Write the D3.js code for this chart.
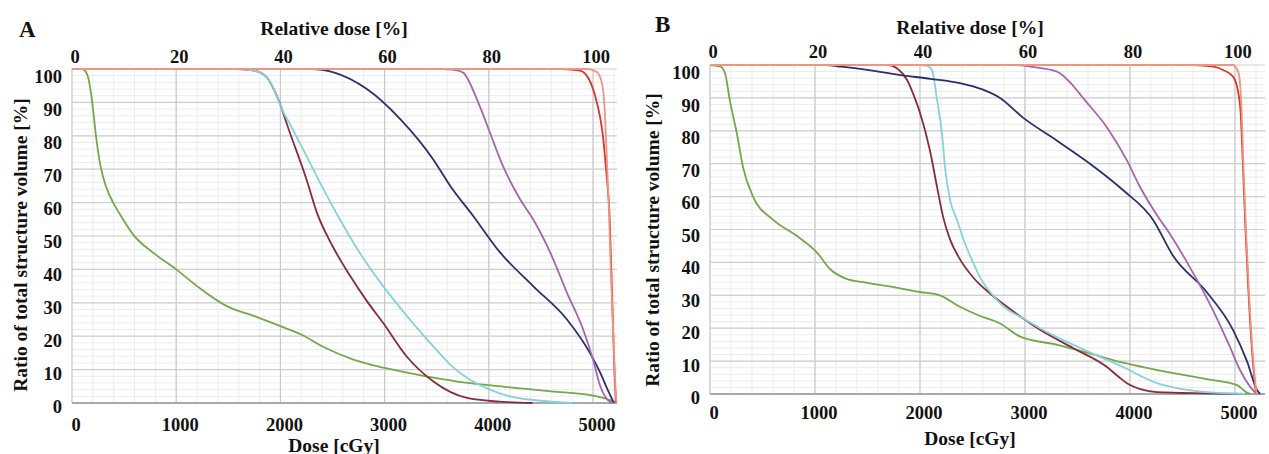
<!DOCTYPE html>
<html>
<head>
<meta charset="utf-8">
<script src="https://cdn.jsdelivr.net/npm/d3@7"></script>
<style>
  body { margin: 0; background: #fff; }
  text { font-family: "Liberation Serif", "Times New Roman", serif; font-weight: bold; fill: #111; }
</style>
</head>
<body>
<svg width="1269" height="454"></svg>
<script>
// ticks
const doseTicks = [0, 1000, 2000, 3000, 4000, 5000]
const relTicks = [0, 20, 40, 60, 80, 100]
const volTicks = [0, 10, 20, 30, 40, 50, 60, 70, 80, 90, 100]
const prescribedDose = 5000 // 100 % relative dose

// panel A, [dose cGy, volume %]
const greenA = [[0,100],[100,100],[150,98],[190,91],[230,80],[270,71.5],[330,64.5],[395,60],[460,56.5],[585,50.5],[800,44.5],[1000,40],[1200,35],[1485,29],[1750,26],[2000,23],[2200,20.5],[2400,17],[2700,13],[3000,10.5],[3400,8],[3800,6],[4200,4.7],[4600,3.5],[5000,2.2],[5150,1],[5230,0]]
const brownA = [[0,100],[1600,100],[1750,99.5],[1870,97.5],[1965,92],[2090,81],[2250,67],[2350,57],[2500,47],[2670,38],[2830,30.5],[2985,24],[3210,14],[3465,6.5],[3790,1.5],[4100,0.4],[4420,0]]
const cyanA = [[0,100],[1600,100],[1750,99.5],[1870,97.5],[1965,92],[2000,89],[2100,83],[2250,74],[2380,66],[2570,55],[2750,45.5],[2985,35],[3150,28.5],[3310,22.5],[3480,16.5],[3630,11.5],[3800,7.3],[4010,4],[4200,2],[4425,0.9],[4750,0.1],[4800,0]]
const navyA = [[0,100],[2300,100],[2510,99],[2830,94],[3150,85],[3465,73],[3630,65],[3850,56],[4110,45],[4425,35],[4750,25],[4970,15],[5070,9],[5140,4],[5200,0]]
const purpleA = [[0,100],[3550,100],[3650,99.8],[3750,99],[3885,91],[4010,81],[4135,71],[4300,61],[4425,55],[4590,45],[4750,33],[4905,22],[5000,13],[5070,5],[5165,0.3],[5200,0]]
const redA = [[0,100],[4700,100],[4875,99.5],[4960,97],[5020,92],[5065,86],[5095,80],[5125,70],[5160,55],[5185,30],[5205,10],[5220,0]]
const salmonA = [[0,100],[4950,100],[5040,99],[5090,95],[5115,86],[5130,75],[5150,60],[5170,40],[5195,20],[5215,5],[5225,0]]

// panel B
const greenB = [[0,100],[100,99.5],[143,97.5],[190,89],[257,79],[314,69],[410,60],[600,53],[829,48],[1019,43],[1143,38],[1300,35],[1457,34],[1750,32.5],[2000,31],[2190,30],[2380,26.5],[2550,24],[2760,21.5],[2950,17.5],[3300,15],[3600,12.5],[3935,9.5],[4300,7],[4730,4.5],[5020,2.7],[5110,0.5],[5150,0]]
const brownB = [[0,100],[1700,100],[1780,99],[1876,95.5],[1950,90],[2000,85.5],[2095,74],[2162,63],[2219,54],[2286,47],[2380,41],[2505,35.5],[2650,31],[2829,26.5],[3143,19.5],[3457,14],[3781,8.2],[3900,5],[3971,3.3],[4100,1.5],[4257,0.6],[4700,0.2],[5100,0]]
const cyanB = [[0,100],[2000,100],[2070,99.7],[2114,98.5],[2162,89.5],[2210,79],[2238,69],[2286,59],[2352,53],[2420,46.5],[2505,40],[2580,35],[2667,31],[2800,26.5],[2981,23],[3200,19],[3457,15],[3700,11.5],[3935,8.2],[4100,5.5],[4257,3.3],[4500,1.5],[4730,0.6],[5100,0]]
const navyB = [[0,100],[1100,100],[1250,99.5],[1500,98.5],[1800,97],[2100,95.8],[2380,94.5],[2600,92.5],[2762,90],[2981,84],[3305,77],[3619,70],[3933,62],[4219,53],[4410,42],[4730,31],[4981,19.5],[5114,10],[5210,1.2],[5240,0]]
const purpleB = [[0,100],[2900,100],[3050,99.5],[3305,98],[3450,94],[3552,90],[3781,81],[3971,71],[4095,63],[4286,53],[4352,50],[4571,38.5],[4790,25.5],[4952,14.3],[5048,7.3],[5171,1.2],[5210,0]]
const redB = [[0,100],[4600,100],[4800,99.5],[4886,98.5],[4981,96.5],[5029,92],[5055,85],[5075,70],[5100,50],[5130,30],[5170,10],[5200,0]]
const salmonB = [[0,100],[4980,100],[5030,98],[5048,94.5],[5065,85],[5080,70],[5105,50],[5135,30],[5175,10],[5205,0]]

const colors = {
  green: "#74a84a",
  brown: "#862d3c",
  cyan: "#86d2dc",
  navy: "#2c2f6c",
  purple: "#a765ad",
  red: "#d9352a",
  salmon: "#ef9584"
}

const svg = d3.select("svg")

function drawPanel(p) {
  let x = d3.scaleLinear().domain([0, p.maxDose]).range([p.left, p.right])
  let y = d3.scaleLinear().domain([0, 100]).range([p.bottom, p.top])
  let xRel = d3.scaleLinear().domain([0, p.maxDose / prescribedDose * 100]).range([p.left, p.right])

  let g = svg.append("g")

  // minor grid
  g.selectAll(".mx").data(d3.range(0, p.maxDose, 200)).enter().append("line")
    .attr("x1", d => x(d)).attr("x2", d => x(d))
    .attr("y1", p.top).attr("y2", p.bottom)
    .style("stroke", "#ececec").style("stroke-width", 1)
  g.selectAll(".my").data(d3.range(0, 100, 2)).enter().append("line")
    .attr("x1", p.left).attr("x2", p.right)
    .attr("y1", d => y(d)).attr("y2", d => y(d))
    .style("stroke", "#ececec").style("stroke-width", 1)

  // major grid
  g.selectAll(".gx").data(doseTicks).enter().append("line")
    .attr("x1", d => x(d)).attr("x2", d => x(d))
    .attr("y1", p.top).attr("y2", p.bottom)
    .style("stroke", "#c9c9c9").style("stroke-width", 1.2)
  g.selectAll(".gy").data(volTicks).enter().append("line")
    .attr("x1", p.left).attr("x2", p.right)
    .attr("y1", d => y(d)).attr("y2", d => y(d))
    .style("stroke", "#cfcfcf").style("stroke-width", 1.2)

  // axis line at 0 %
  g.append("line")
    .attr("x1", p.left).attr("x2", p.right)
    .attr("y1", y(0)).attr("y2", y(0))
    .style("stroke", "#a9a9a9").style("stroke-width", 2)

  // curves
  let line = d3.line()
    .x(d => x(d[0]))
    .y(d => y(d[1]))
    .curve(d3.curveMonotoneX)

  p.series.forEach(s => {
    g.append("path")
      .datum(s.values)
      .attr("d", line)
      .style("fill", "none")
      .style("stroke", colors[s.color])
      .style("stroke-width", 1.8)
  })

  // tick labels
  g.selectAll(".ty").data(volTicks).enter().append("text")
    .attr("x", p.left - 10)
    .attr("y", d => y(d) + 4 + d * 0.04)
    .attr("text-anchor", "end")
    .attr("dominant-baseline", "central")
    .style("font-size", "18.5px")
    .text(d => d)

  g.selectAll(".tx").data(doseTicks).enter().append("text")
    .attr("x", d => x(d) + 4)
    .attr("y", p.bottom + p.tickGap)
    .attr("text-anchor", "middle")
    .attr("dominant-baseline", "central")
    .style("font-size", "18.5px")
    .text(d => d)

  g.selectAll(".tr").data(relTicks).enter().append("text")
    .attr("x", d => xRel(d) + 3)
    .attr("y", p.top - p.topGap)
    .attr("text-anchor", "middle")
    .attr("dominant-baseline", "central")
    .style("font-size", "18.5px")
    .text(d => d)

  // titles
  g.append("text")
    .attr("x", p.titleX).attr("y", p.relTitleY)
    .attr("text-anchor", "middle").attr("dominant-baseline", "central")
    .style("font-size", "19.5px")
    .text("Relative dose [%]")

  g.append("text")
    .attr("x", p.titleX).attr("y", p.doseTitleY)
    .attr("text-anchor", "middle").attr("dominant-baseline", "central")
    .style("font-size", "19.5px")
    .text("Dose [cGy]")

  g.append("text")
    .attr("transform", "translate(" + p.yTitleX + "," + p.yTitleY + ") rotate(-90)")
    .attr("text-anchor", "middle").attr("dominant-baseline", "central")
    .style("font-size", "19.5px")
    .text("Ratio of total structure volume [%]")

  g.append("text")
    .attr("x", p.letterX).attr("y", p.letterY)
    .attr("dominant-baseline", "central")
    .style("font-size", "23px")
    .text(p.letter)
}

drawPanel({
  letter: "A", letterX: 19, letterY: 29,
  left: 72, right: 617, top: 69, bottom: 403, maxDose: 5230,
  tickGap: 22, topGap: 12, titleX: 334, relTitleY: 28, doseTitleY: 445,
  yTitleX: 20, yTitleY: 245,
  series: [
    { color: "green", values: greenA },
    { color: "brown", values: brownA },
    { color: "cyan", values: cyanA },
    { color: "navy", values: navyA },
    { color: "purple", values: purpleA },
    { color: "red", values: redA },
    { color: "salmon", values: salmonA }
  ]
})

drawPanel({
  letter: "B", letterX: 655, letterY: 24,
  left: 710, right: 1265, top: 65, bottom: 394, maxDose: 5286,
  tickGap: 19, topGap: 13, titleX: 970, relTitleY: 27, doseTitleY: 438,
  yTitleX: 652, yTitleY: 240,
  series: [
    { color: "green", values: greenB },
    { color: "brown", values: brownB },
    { color: "cyan", values: cyanB },
    { color: "navy", values: navyB },
    { color: "purple", values: purpleB },
    { color: "red", values: redB },
    { color: "salmon", values: salmonB }
  ]
})
</script>
</body>
</html>
